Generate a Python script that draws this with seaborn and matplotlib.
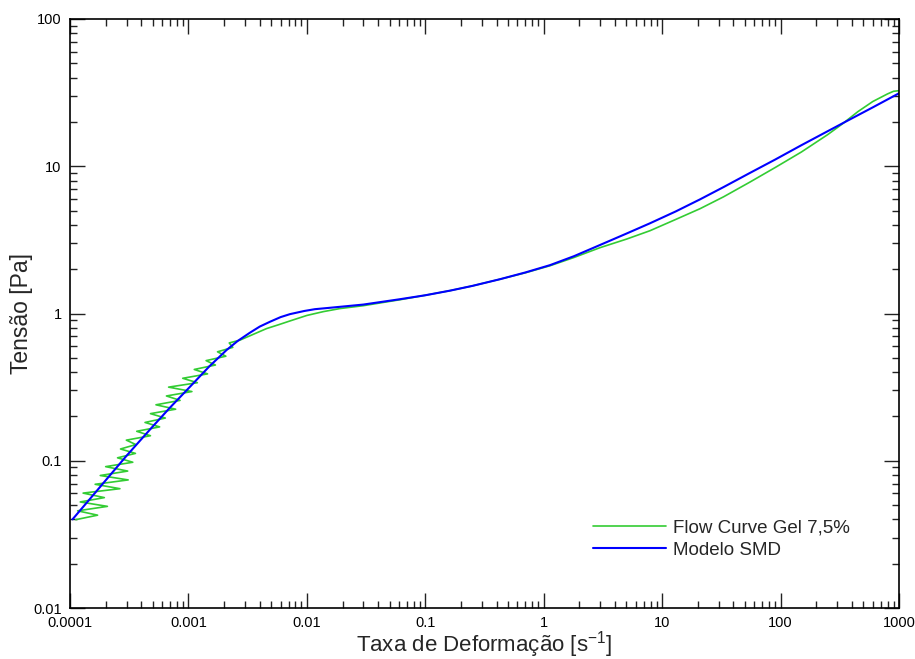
import numpy as np
import pandas as pd
import seaborn as sns
import matplotlib
matplotlib.use("Agg")
import matplotlib.pyplot as plt
from matplotlib.ticker import FixedLocator, FuncFormatter, LogLocator, NullFormatter

# Flow curve (measured), shear rate [1/s] and stress [Pa]
flow_rate = [1.12e-4, 1.71e-4, 1.16e-4, 2.07e-4, 1.22e-4, 1.95e-4, 1.29e-4, 2.64e-4,
             1.63e-4, 3.10e-4, 1.80e-4, 3.07e-4, 2.00e-4, 3.39e-4, 2.52e-4, 3.57e-4,
             2.67e-4, 3.60e-4, 2.99e-4, 4.78e-4, 3.66e-4, 5.71e-4, 4.30e-4, 6.38e-4,
             4.78e-4, 7.80e-4, 5.32e-4, 8.50e-4, 6.52e-4, 1.07e-3, 6.80e-4, 1.19e-3,
             8.95e-4, 1.45e-3, 1.12e-3, 1.69e-3, 1.41e-3, 2.07e-3, 1.76e-3, 2.37e-3,
             2.21e-3, 2.73e-3, 3.5e-3, 4.57e-3, 5.8e-3, 7.2e-3, 0.01, 0.0138, 0.019,
             0.03, 0.061, 0.1, 0.162, 0.25, 0.428, 0.7, 1.13, 1.8, 2.99, 5, 7.9, 13,
             20.9, 33, 55, 90, 150, 250, 330, 450, 600, 800, 900, 1000]
flow_stress = [0.0398, 0.0427, 0.0457, 0.0490, 0.0525, 0.0562, 0.0603, 0.0646,
               0.0692, 0.0741, 0.0794, 0.0851, 0.0912, 0.0977, 0.1047, 0.1122,
               0.1202, 0.1288, 0.1380, 0.1479, 0.1585, 0.1698, 0.1820, 0.1950,
               0.2089, 0.2239, 0.2399, 0.2570, 0.2754, 0.2951, 0.3162, 0.3388,
               0.3631, 0.3890, 0.4169, 0.4467, 0.4786, 0.5129, 0.5495, 0.5888,
               0.6310, 0.66, 0.72, 0.79, 0.84, 0.89, 0.97, 1.03, 1.08,
               1.13, 1.24, 1.33, 1.43, 1.54, 1.71, 1.89, 2.11, 2.40, 2.80, 3.2, 3.65, 4.35,
               5.15, 6.2, 7.8, 9.8, 12.5, 16.4, 19.3, 23.5, 27.5, 31.0, 32.3, 32.6]

# SMD model curve
smd_rate = [1.05e-4, 1.5e-4, 2e-4, 3e-4, 4e-4, 5e-4, 7e-4, 1e-3, 1.5e-3, 2.1e-3,
            2.6e-3, 3.3e-3, 4e-3, 4.9e-3, 6e-3, 7.2e-3, 9.5e-3, 0.0117, 0.015, 0.019,
            0.03, 0.061, 0.1, 0.162, 0.25, 0.428, 0.7, 1.13, 1.8, 2.99, 5, 7.9, 13,
            20.9, 33, 55, 90, 150, 250, 385, 600, 1000]
smd_stress = [0.040, 0.056, 0.0736, 0.108, 0.140, 0.171, 0.23, 0.31, 0.437, 0.565,
              0.65, 0.74, 0.815, 0.88, 0.945, 0.99, 1.04, 1.07, 1.09, 1.11,
              1.15, 1.25, 1.33, 1.43, 1.54, 1.71, 1.90, 2.13, 2.45, 2.92, 3.49, 4.1, 4.93,
              5.96, 7.22, 9.0, 11.1, 13.9, 17.3, 20.8, 25.1, 31.3]

x_ticks = [1e-4, 1e-3, 1e-2, 1e-1, 1, 10, 100, 1000]
y_ticks = [0.01, 0.1, 1, 10, 100]

sns.set_theme(style="ticks")
plt.rcParams["font.family"] = ["Liberation Sans", "DejaVu Sans"]
plt.rcParams["mathtext.default"] = "regular"

flow = pd.DataFrame({"rate": flow_rate, "stress": flow_stress})
smd = pd.DataFrame({"rate": smd_rate, "stress": smd_stress})

fig = plt.figure(figsize=(9.15, 6.59), dpi=100)
ax = fig.add_axes([70 / 915, 1 - 608 / 659, 829 / 915, 589 / 659])

sns.lineplot(data=flow, x="rate", y="stress", sort=False, estimator=None,
             color="#33cc33", lw=1.2, label="Flow Curve Gel 7,5%", ax=ax)
sns.lineplot(data=smd, x="rate", y="stress", sort=False, estimator=None,
             color="#0000ff", lw=1.5, label="Modelo SMD", ax=ax)

ax.set_xscale("log")
ax.set_yscale("log")
ax.set_xlim(1e-4, 1000)
ax.set_ylim(0.01, 100)

fmt = FuncFormatter(lambda v, p: "%g" % v)
ax.xaxis.set_major_locator(FixedLocator(x_ticks))
ax.yaxis.set_major_locator(FixedLocator(y_ticks))
ax.xaxis.set_major_formatter(fmt)
ax.yaxis.set_major_formatter(fmt)
ax.xaxis.set_minor_locator(LogLocator(base=10, subs=np.arange(2, 10), numticks=20))
ax.yaxis.set_minor_locator(LogLocator(base=10, subs=np.arange(2, 10), numticks=20))
ax.xaxis.set_minor_formatter(NullFormatter())
ax.yaxis.set_minor_formatter(NullFormatter())

ax.tick_params(which="both", direction="in", top=True, right=True,
               colors="#222222", labelcolor="black", labelsize=10.5)
ax.tick_params(which="major", length=11, width=1, pad=6)
ax.tick_params(which="minor", length=5, width=1)
for s in ax.spines.values():
    s.set_linewidth(1.2)
    s.set_color("black")

ax.set_xlabel("Taxa de Deformação [s$^{-1}$]", fontsize=16)
ax.set_ylabel("Tensão [Pa]", fontsize=16.5)
ax.xaxis.set_label_coords(0.5, -0.036)
ax.yaxis.set_label_coords(-0.045, 0.5)

ax.legend(loc="upper left", bbox_to_anchor=(0.631, 0.151), frameon=False,
          borderaxespad=0, borderpad=0, fontsize=13.5, handlelength=3.9,
          handletextpad=0.37, labelspacing=0.3)

fig.savefig("out.png", dpi=100)
